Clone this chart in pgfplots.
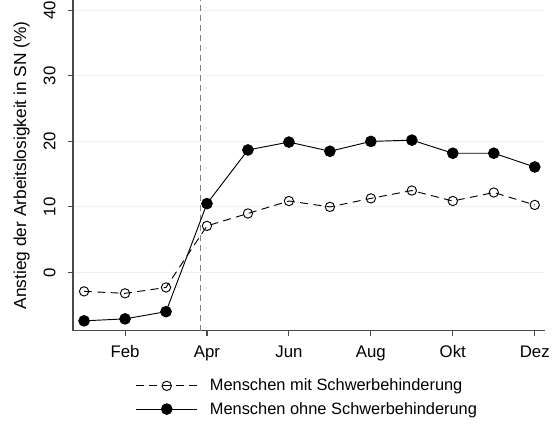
\documentclass[border=0pt]{standalone}
\usepackage{pgfplots}
\pgfplotsset{compat=1.18}
\usepackage{fontspec}
\setmainfont{Liberation Sans}
\definecolor{gridc}{HTML}{EAF2F3}
\definecolor{axc}{HTML}{4A4A4A}
\begin{document}
\begin{tikzpicture}
\begin{axis}[
  name=ax,
  scale only axis,
  width=354pt, height=248pt,
  xmin=0.73, xmax=12.25,
  ymin=-8.9, ymax=41.6,
  axis x line*=bottom, axis y line*=left,
  axis line style={axc, line width=0.9pt},
  xtick={2,4,6,8,10,12},
  xticklabels={Feb,Apr,Jun,Aug,Okt,Dez},
  ytick={0,10,20,30,40},
  yticklabel style={rotate=90, anchor=south},
  yticklabel shift=1.5pt,
  xticklabel shift=3pt,
  typeset ticklabels with strut,
  tick style={axc, line width=0.8pt},
  tick align=outside,
  major tick length=4pt,
  ymajorgrids,
  grid style={gridc, line width=0.8pt},
  ticklabel style={font=\fontsize{12.6}{14}\selectfont},
  /pgf/number format/assume math mode=true,
  ylabel={Anstieg der Arbeitslosigkeit in SN (\%)},
  every axis y label/.style={at={([xshift=-38.5pt]axis description cs:0,0.5)}, rotate=90, anchor=center, font=\fontsize{13}{15}\selectfont},
  legend style={draw=none, at={([yshift=-34pt,xshift=-1pt]axis description cs:0.5,0)}, anchor=north, font=\fontsize{12.3}{14}\selectfont, row sep=3pt, cells={anchor=west}, inner sep=0pt},
  legend cell align=left,
  legend image code/.code={\draw[mark repeat=2,mark phase=2,#1] plot coordinates {(0pt,0pt) (23pt,0pt) (46pt,0pt)}; \path (0pt,0pt) (53pt,0pt);},
  clip=false,
]
\addplot[gray, dash pattern=on 4.5pt off 3pt, line width=0.8pt, forget plot] coordinates {(3.85,-8.9) (3.85,41.6)};
\addplot[black, line width=0.7pt, dash pattern=on 6pt off 4pt, mark=o, mark size=3.5pt, mark options={solid, line width=0.7pt}] coordinates {
(1,-2.9) (2,-3.2) (3,-2.3) (4,7.1) (5,9.0) (6,10.9) (7,10.0) (8,11.3) (9,12.5) (10,10.9) (11,12.2) (12,10.3)};
\addlegendentry{Menschen mit Schwerbehinderung}
\addplot[black, line width=0.7pt, mark=*, mark size=4pt] coordinates {
(1,-7.4) (2,-7.1) (3,-6.0) (4,10.5) (5,18.7) (6,19.9) (7,18.5) (8,20.0) (9,20.2) (10,18.2) (11,18.2) (12,16.1)};
\addlegendentry{Menschen ohne Schwerbehinderung}
\end{axis}
\pgfresetboundingbox
\path ([shift={(-54.75pt,-70.5pt)}]ax.south west) rectangle ([shift={(9.75pt,0pt)}]ax.north east);
\end{tikzpicture}
\end{document}
